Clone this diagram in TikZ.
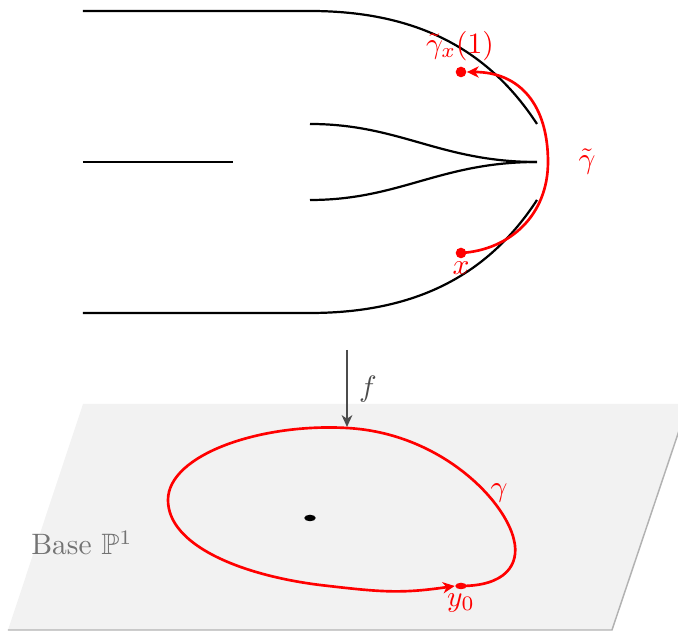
\documentclass[tikz,border=0pt]{standalone}
\usepackage{amssymb}
\usetikzlibrary{arrows.meta,shapes.geometric}
\begin{document}
\begin{tikzpicture}[x={(0.339pt,0)}, y={(0,-0.339pt)},
  sheet/.style={line width=0.75pt, black},
  redpath/.style={red, line width=0.9pt},
  reddot/.style={circle, fill=red, inner sep=0pt, minimum size=3.6pt},
  flatdot/.style={ellipse, inner sep=0pt, minimum width=3.9pt, minimum height=2.2pt},
  tipstyle/.style={-{Stealth[length=4pt,width=3.8pt,inset=1.2pt]}},
  lbl/.style={inner sep=0pt, text=red}]
\clip (0,0) rectangle (678,631);
% base plane
\fill[gray!10] (83,404) -- (688,404) -- (612,630) -- (8,630) -- cycle;
\draw[gray!60, line width=0.5pt] (688,404) -- (612,630) -- (8,630);
\node[text=black!55, inner sep=0pt] (base) at (82,543) {Base $\mathbb{P}^1$};
% top sheets
\draw[sheet] (83,11) -- (310,11) .. controls (420,11) and (490,52) .. (537,124);
\draw[sheet] (83,313) -- (310,313) .. controls (420,313) and (490,272) .. (537,200);
\draw[sheet] (83,162) -- (233,162);
\draw[sheet] (310,124) .. controls (400,124) and (440,162) .. (537,162);
\draw[sheet] (310,200) .. controls (400,200) and (440,162) .. (537,162);
% lifted path
\node[reddot] (xp) at (461,253) {};
\node[reddot] (gx) at (461,72) {};
\node[lbl] (xl) at (461,268) {$x$};
\node[lbl] (gxl) at (460,46) {$\tilde\gamma_x(1)$};
\node[lbl] (gtl) at (587,162) {$\tilde\gamma$};
\draw[redpath, tipstyle] (xp.center) .. controls (510,250) and (548,215) .. (548,162)
  .. controls (548,105) and (520,72) .. (gx.east);
% projection arrow
\coordinate (fs) at (347,350);
\coordinate (fe) at (347,427);
\draw[black!70, line width=0.7pt, -{Stealth[length=4pt,width=3.6pt,inset=1.2pt]}] (fs) -- (fe);
\node[inner sep=0pt, text=black!70] (fl) at (368,389) {$f$};
% base loop
\node[flatdot, fill=black] (ctr) at (310,518) {};
\node[flatdot, fill=red] (y0) at (461,586) {};
\node[lbl] (y0l) at (461,603) {$y_0$};
\node[lbl] (gl) at (499,493) {$\gamma$};
\draw[redpath, tipstyle] (y0.center) .. controls (505,586) and (520,565) .. (514,540)
  .. controls (505,500) and (440,433) .. (347,428)
  .. controls (260,423) and (168,455) .. (168,500)
  .. controls (168,545) and (240,575) .. (320,585)
  .. controls (380,592) and (400,594) .. (y0.west);
\end{tikzpicture}
\end{document}
